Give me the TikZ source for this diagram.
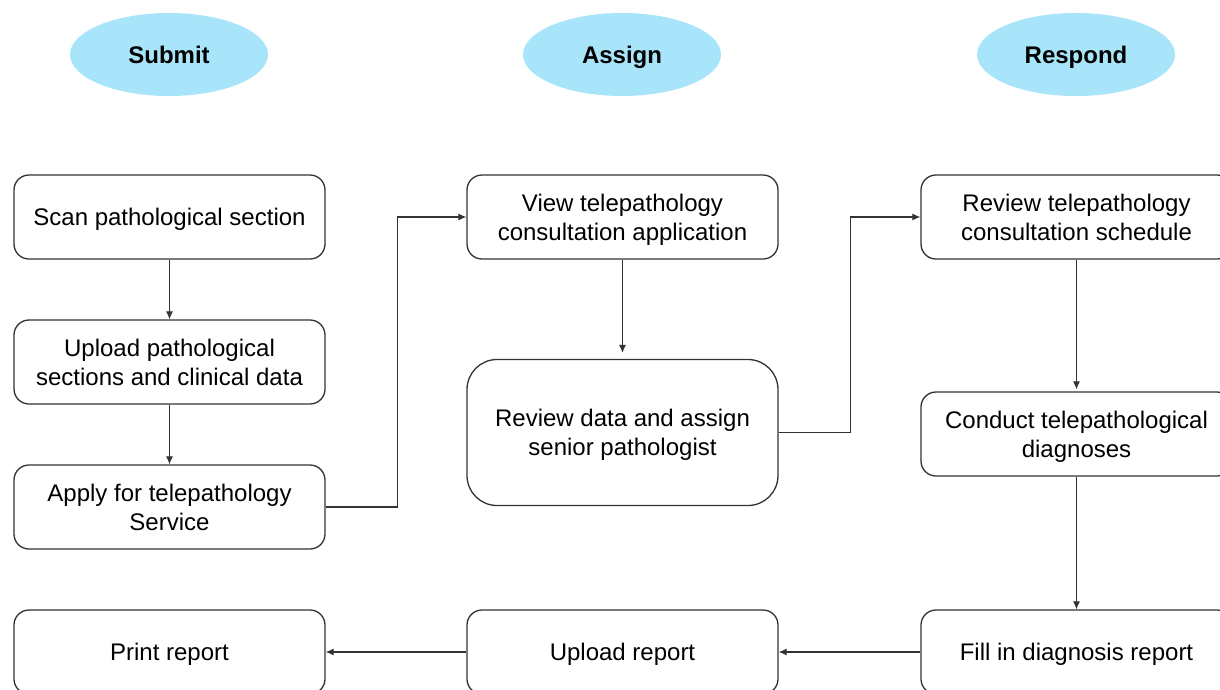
\documentclass[tikz,border=0pt]{standalone}
\usepackage{fontspec}
\setmainfont{Liberation Sans}
\usetikzlibrary{arrows.meta,shapes.geometric}
\definecolor{phase}{HTML}{A8E5FA}
\definecolor{edge}{HTML}{333333}
% invisible struts fixing the first-line height and last-line depth of box text
\newcommand\boxtop{\rule{0pt}{23pt}}
\newcommand\boxbot{\rule[-6pt]{0pt}{0pt}}
\tikzset{
  phasenode/.style={ellipse, fill=phase, minimum width=198pt, minimum height=83pt,
    inner sep=0pt, text height=17.2pt, text depth=0pt,
    font=\fontsize{24}{29}\selectfont\bfseries},
  stepbox/.style={draw=edge, line width=1.3pt, rounded corners=15pt,
    minimum width=311pt, minimum height=84pt, inner sep=0pt, align=center,
    font=\fontsize{24}{29}\selectfont},
  flow/.style={draw=edge, line width=1.1pt, -{Latex[length=8pt,width=7pt]}},
}
\begin{document}
\begin{tikzpicture}[x=1pt,y=-1pt]
\useasboundingbox (0,0) rectangle (1220,689);
\clip (0,0) rectangle (1220,689);
\fill[white] (0,0) rectangle (1220,689);

% phase headers
\node[phasenode] (submit)  at (169,54.5)  {Submit};
\node[phasenode] (assign)  at (622,54.5)  {Assign};
\node[phasenode] (respond) at (1076,54.5) {Respond};

% submitting side
\node[stepbox] (scan)   at (169.5,217) {\boxtop Scan pathological section\boxbot};
\node[stepbox] (upload) at (169.5,362) {\boxtop Upload pathological\\sections and clinical data\boxbot};
\node[stepbox] (apply)  at (169.5,507) {\boxtop Apply for telepathology\\Service\boxbot};
\node[stepbox] (print)  at (169.5,652) {\boxtop Print report\boxbot};

% assigning side
\node[stepbox] (view)   at (622.5,217) {\boxtop View telepathology\\consultation application\boxbot};
\node[stepbox, minimum height=146pt, rounded corners=30pt] (assignsp) at (622.5,432.5)
  {\boxtop Review data and assign\\senior pathologist\boxbot};
\node[stepbox] (uprep)  at (622.5,652) {\boxtop Upload report\boxbot};

% responding side
\node[stepbox] (sched)  at (1076.5,217) {\boxtop Review telepathology\\consultation schedule\boxbot};
\node[stepbox] (diag)   at (1076.5,434) {\boxtop Conduct telepathological\\diagnoses\boxbot};
\node[stepbox] (fill)   at (1076.5,652) {\boxtop Fill in diagnosis report\boxbot};

% connectors
\draw[flow] (scan) -- (upload);
\draw[flow] (upload) -- (apply);
\draw[flow] (apply.east) -- ++(72,0) |- (view.west);
\draw[flow, shorten >=6pt] (view) -- (assignsp);
\draw[flow] (assignsp.east) -- ++(72,0) |- (sched.west);
\draw[flow, shorten >=2pt] (sched) -- (diag);
\draw[flow] (diag) -- (fill);
\draw[flow] (fill) -- (uprep);
\draw[flow] (uprep) -- (print);
\end{tikzpicture}
\end{document}
